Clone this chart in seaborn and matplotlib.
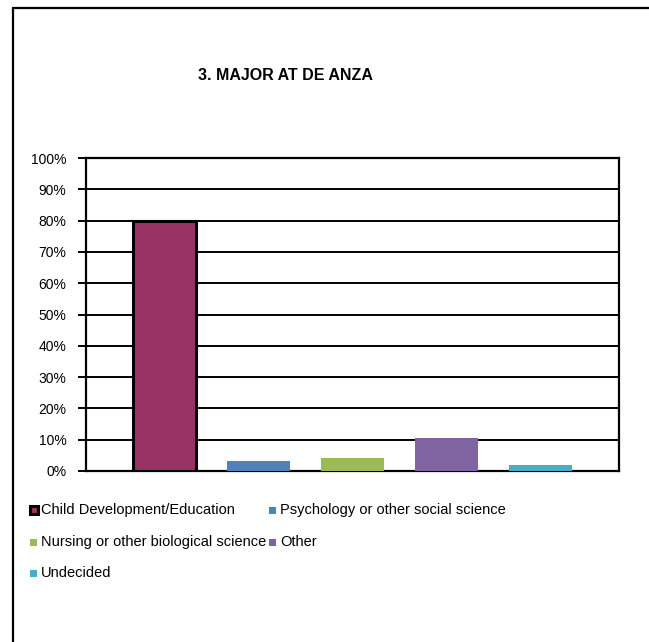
import matplotlib
matplotlib.use("Agg")
import matplotlib.pyplot as plt
from matplotlib.patches import Rectangle
import seaborn as sns
import pandas as pd

categories = [
    "Child Development/Education",
    "Psychology or other social science",
    "Nursing or other biological science",
    "Other",
    "Undecided",
]
shares = [80.0, 3.2, 4.2, 10.5, 1.9]
colors = ["#993366", "#4F81BD", "#9BBB59", "#8064A2", "#4BACC6"]
y_ticks = [0, 10, 20, 30, 40, 50, 60, 70, 80, 90, 100]
y_tick_labels = [f"{v}%" for v in y_ticks]
title = "3. MAJOR AT DE ANZA"

sns.set_theme(style="white")
plt.rcParams["font.family"] = ["Liberation Sans", "DejaVu Sans"]

W, H = 649, 642
fig = plt.figure(figsize=(W / 100, H / 100), dpi=100)
ax = fig.add_axes([86 / W, 1 - 471 / H, (619 - 86) / W, (471 - 158) / H])

df = pd.DataFrame({"category": categories, "share": shares})
sns.barplot(data=df, x="category", y="share", hue="category",
            palette=colors, dodge=False, legend=False, width=0.67,
            saturation=1, ax=ax, zorder=3)

# first bar carries a heavy black outline
for i, patch in enumerate(ax.patches):
    if i == 0:
        patch.set_edgecolor("black")
        patch.set_linewidth(2.2)
    else:
        patch.set_edgecolor("none")

ax.set_ylim(0, 100)
ax.set_xlim(-0.835, len(categories) - 1 + 0.835)
ax.set_yticks(y_ticks)
ax.set_yticklabels(y_tick_labels, fontsize=10)
ax.set_xticks([])
ax.set_xlabel("")
ax.set_ylabel("")
ax.yaxis.grid(True, color="black", linewidth=1.4, zorder=0)
ax.set_axisbelow(True)
ax.tick_params(axis="y", which="major", length=6, width=1.4, color="black",
               left=True, pad=8, labelcolor="black")
for side in ["left", "bottom", "right", "top"]:
    ax.spines[side].set_visible(True)
    ax.spines[side].set_color("black")
    ax.spines[side].set_linewidth(1.6)

fig.text(285 / W, 1 - 75 / H, title, ha="center", va="center",
         fontsize=11.5, fontweight="bold", color="black")

# legend laid out in two columns, three rows
col_x = [30, 269]
row_y = [510, 542, 573]
slots = [(0, 0), (1, 0), (0, 1), (1, 1), (0, 2)]
sq = 7
for (c, r), name, col in zip(slots, categories, colors):
    x0, yc = col_x[c], row_y[r]
    if name == categories[0]:
        rect = Rectangle((x0 / W, 1 - (yc + sq / 2 + 0.5) / H), (sq + 1) / W, (sq + 1) / H,
                         transform=fig.transFigure, facecolor=col,
                         edgecolor="black", linewidth=2.2)
    else:
        rect = Rectangle((x0 / W, 1 - (yc + sq / 2) / H), sq / W, sq / H,
                         transform=fig.transFigure, facecolor=col,
                         edgecolor="none")
    fig.patches.append(rect)
    fig.text((x0 + 11) / W, 1 - yc / H, name, ha="left", va="center",
             fontsize=10.5, color="black")

# outer frame: top and left edges
fig.add_artist(plt.Line2D([12.5 / W, 1], [1 - 8 / H, 1 - 8 / H],
                          transform=fig.transFigure, color="black", linewidth=1.6))
fig.add_artist(plt.Line2D([12.5 / W, 12.5 / W], [0, 1 - 8 / H],
                          transform=fig.transFigure, color="black", linewidth=1.6))

fig.savefig("out.png", dpi=100, facecolor="white")
